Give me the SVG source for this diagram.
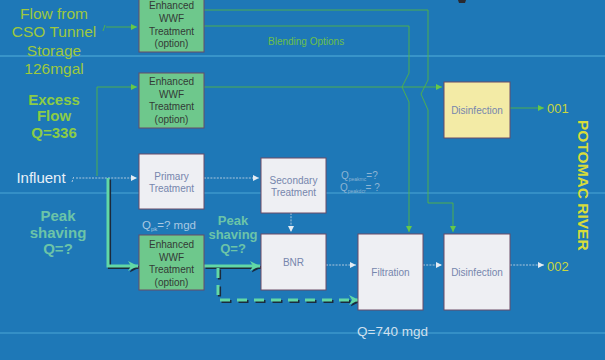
<svg xmlns="http://www.w3.org/2000/svg" width="605" height="360" viewBox="0 0 605 360">
<defs>
<style>
.box{stroke:#6a4a66;stroke-width:1}
.wbox{fill:#eeeff3}
.gbox{fill:#6ec88c}
.ybox{fill:#f3eba6}
.bt{font-family:"Liberation Sans",Arial,sans-serif;font-size:10px;text-anchor:middle}
.wt{fill:#7686ad}
.gt{fill:#333a36}
.thin{fill:none;stroke:#52b444;stroke-width:0.9}
.dot{fill:none;stroke:#bcd0e2;stroke-width:0.9;stroke-dasharray:2 1.2}
.thickS{fill:none;stroke:#1b2a3c;stroke-width:3.2}
.thick{fill:none;stroke:#62d8a6;stroke-width:3}
.lbl{font-family:"Liberation Sans",Arial,sans-serif;text-anchor:middle}
</style>
<marker id="ag" markerUnits="userSpaceOnUse" markerWidth="8" markerHeight="8" refX="6" refY="4" orient="auto"><path d="M0,1 L6,4 L0,7 z" fill="#66c848"/></marker>
<marker id="aw" markerUnits="userSpaceOnUse" markerWidth="8" markerHeight="8" refX="6" refY="4" orient="auto"><path d="M0,1 L6,4 L0,7 z" fill="#e4ecf4"/></marker>
<marker id="at" markerUnits="userSpaceOnUse" markerWidth="14" markerHeight="14" refX="10" refY="7" orient="auto"><path d="M0,2 L10,7 L0,12 L3,7 z" fill="#62d8a6"/></marker>
<marker id="ats" markerUnits="userSpaceOnUse" markerWidth="14" markerHeight="14" refX="10" refY="7" orient="auto"><path d="M0,2 L10,7 L0,12 L3,7 z" fill="#1b2a3c"/></marker>
</defs>
<rect width="605" height="360" fill="#1e78b7"/>
<rect y="55" width="605" height="2" fill="#4aa6d6" opacity="0.6"/>
<rect y="192" width="605" height="2" fill="#4aa6d6" opacity="0.5"/>
<rect y="332" width="605" height="2" fill="#4aa6d6" opacity="0.5"/>
<path d="M458,0 h8 l-1,3 h-6 z" fill="#2a2a30"/>

<g id="connectors">
<path class="thin" d="M103,31 l2,-6"/>
<path class="thin" d="M106,27 H137" marker-end="url(#ag)"/>
<path class="thin" d="M204,10 H428 V80 L421,94 L428,110 V203 H453 V232" marker-end="url(#ag)"/>
<path class="thin" d="M204,26 H409 V73 L402,87 L409,102 V232" marker-end="url(#ag)"/>
<path class="thin" d="M204,87 H442" marker-end="url(#ag)"/>
<path class="thin" d="M97,176 V87 H137" marker-end="url(#ag)"/>
<path class="thin" d="M510,108 H544" marker-end="url(#ag)"/>
<path class="dot" d="M72,182 l2,-6"/>
<path class="dot" d="M76,178 H137" marker-end="url(#aw)"/>
<path class="dot" d="M204,178 H259" marker-end="url(#aw)"/>
<path class="dot" d="M291,213 V232" marker-end="url(#aw)"/>
<path class="dot" d="M326,265 H356" marker-end="url(#aw)"/>
<path class="dot" d="M423,265 H442" marker-end="url(#aw)"/>
<path class="dot" d="M510,265 H544" marker-end="url(#aw)"/>
<g transform="translate(1.5,1.5)">
<path class="thickS" d="M108,178 V266 H138" marker-end="url(#ats)"/>
<path class="thickS" d="M204,266 H260" marker-end="url(#ats)"/>
<path class="thickS" d="M218,268 V300 H359" stroke-dasharray="10 7" marker-end="url(#ats)"/>
</g>
<path class="thick" d="M108,178 V266 H138" marker-end="url(#at)"/>
<path class="thick" d="M204,266 H260" marker-end="url(#at)"/>
<path class="thick" d="M218,268 V300 H359" stroke-dasharray="10 7" marker-end="url(#at)"/>
</g>

<g id="wwf1"><rect class="box gbox" x="139" y="-4" width="65" height="56"/>
<text class="bt gt"><tspan x="171.5" y="9">Enhanced</tspan><tspan x="171.5" y="22">WWF</tspan><tspan x="171.5" y="34.5">Treatment</tspan><tspan x="171.5" y="47">(option)</tspan></text></g>
<g id="wwf2"><rect class="box gbox" x="139" y="73" width="65" height="55"/>
<text class="bt gt"><tspan x="171.5" y="85">Enhanced</tspan><tspan x="171.5" y="97.5">WWF</tspan><tspan x="171.5" y="110">Treatment</tspan><tspan x="171.5" y="122.5">(option)</tspan></text></g>
<g id="primary"><rect class="box wbox" x="139" y="154" width="65" height="55"/>
<text class="bt wt" font-size="10.5"><tspan x="171.5" y="180">Primary</tspan><tspan x="171.5" y="192">Treatment</tspan></text></g>
<g id="wwf3"><rect class="box gbox" x="139" y="235" width="65" height="55"/>
<text class="bt gt"><tspan x="171.5" y="248">Enhanced</tspan><tspan x="171.5" y="260.5">WWF</tspan><tspan x="171.5" y="273">Treatment</tspan><tspan x="171.5" y="285.5">(option)</tspan></text></g>
<g id="secondary"><rect class="box wbox" x="261" y="158" width="65" height="55"/>
<text class="bt wt" font-size="10.5"><tspan x="293.5" y="184">Secondary</tspan><tspan x="293.5" y="196">Treatment</tspan></text></g>
<g id="bnr"><rect class="box wbox" x="261" y="234" width="65" height="56"/>
<text class="bt wt" x="293.5" y="266">BNR</text></g>
<g id="filtration"><rect class="box wbox" x="358" y="234" width="65" height="76"/>
<text class="bt wt" x="390.5" y="276">Filtration</text></g>
<g id="disinfection2"><rect class="box wbox" x="444" y="234" width="66" height="76"/>
<text class="bt wt" x="477" y="276">Disinfection</text></g>
<g id="disinfection1"><rect class="box ybox" x="444" y="82" width="66" height="56"/>
<text class="bt wt" x="477" y="114">Disinfection</text></g>

<g id="labels">
<text class="lbl" font-size="15.5" fill="#9ec83e"><tspan x="54" y="18.5">Flow from</tspan><tspan x="54" y="37">CSO Tunnel</tspan><tspan x="54" y="55.5">Storage</tspan><tspan x="54" y="74">126mgal</tspan></text>
<text class="lbl" font-size="15" font-weight="bold" fill="#8ccc46"><tspan x="54" y="104.5">Excess</tspan><tspan x="54" y="121">Flow</tspan><tspan x="54" y="137.5">Q=336</tspan></text>
<text class="lbl" font-size="15" fill="#e8f0f8" x="41" y="183">Influent</text>
<text class="lbl" font-size="15" font-weight="bold" fill="#6cc4a8"><tspan x="58" y="221">Peak</tspan><tspan x="58" y="237.5">shaving</tspan><tspan x="58" y="254">Q=?</tspan></text>
<text class="lbl" font-size="13" font-weight="bold" fill="#6cc4a8"><tspan x="233" y="224.5">Peak</tspan><tspan x="233" y="239">shaving</tspan><tspan x="233" y="253">Q=?</tspan></text>
<text font-family="Liberation Sans, Arial, sans-serif" font-size="11.5" fill="#a9c8e2" x="142" y="229">Q<tspan font-size="6" dy="2">pk</tspan><tspan dy="-2">=? mgd</tspan></text>
<text font-family="Liberation Sans, Arial, sans-serif" font-size="10" fill="#6cc04a" x="268" y="44.5">Blending Options</text>
<text font-family="Liberation Sans, Arial, sans-serif" font-size="10" fill="#8cb4d4" x="341" y="178.5">Q<tspan font-size="5" dy="2">peakmc</tspan><tspan dy="-2">=?</tspan></text>
<text font-family="Liberation Sans, Arial, sans-serif" font-size="10" fill="#8cb4d4" x="340" y="190.5">Q<tspan font-size="5" dy="2">peakdcr</tspan><tspan dy="-2">= ?</tspan></text>
<text font-family="Liberation Sans, Arial, sans-serif" font-size="13.5" fill="#d0e0ee" x="357" y="336">Q=740 mgd</text>
<text font-family="Liberation Sans, Arial, sans-serif" font-size="13" fill="#c8d640" x="547" y="113">001</text>
<text font-family="Liberation Sans, Arial, sans-serif" font-size="13" fill="#c8d640" x="547" y="271">002</text>
<text font-family="Liberation Sans, Arial, sans-serif" font-size="15.5" font-weight="bold" fill="#d8dc3a" transform="translate(578,120) rotate(90)" x="0" y="0">POTOMAC RIVER</text>
</g>
</svg>
